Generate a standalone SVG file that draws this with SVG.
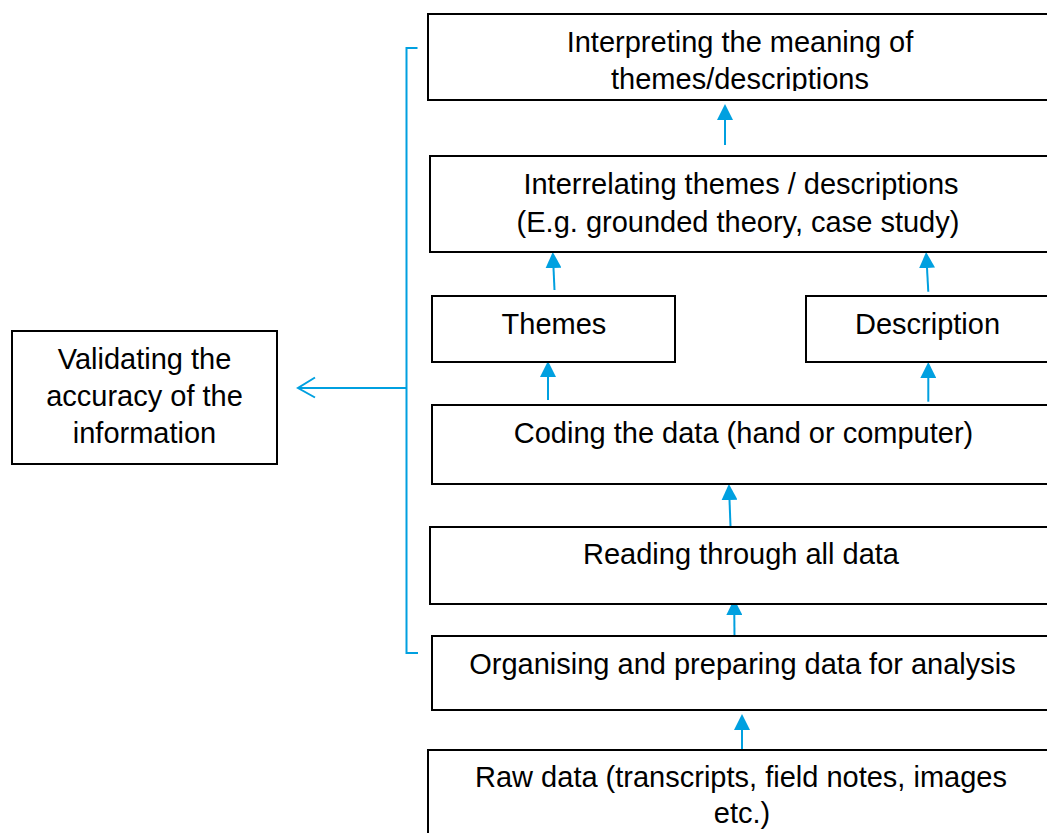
<svg xmlns="http://www.w3.org/2000/svg" width="1047" height="833" viewBox="0 0 1047 833">
<style>
.box{fill:#fff;stroke:#000;stroke-width:2}
.t{font-family:"Liberation Sans",Arial,sans-serif;font-size:29px;fill:#000;text-anchor:middle}
.c{stroke:#00a0e0;stroke-width:2;fill:none}
.a{stroke:#00a0e0;stroke-width:2;fill:none;marker-end:url(#ah)}
</style>
<defs>
<marker id="ah" markerUnits="userSpaceOnUse" markerWidth="16" markerHeight="16" refX="0" refY="7.5" orient="auto" viewBox="0 0 15 15">
<path d="M0,0 L15,7.5 L0,15 Z" fill="#00a0e0"/>
</marker>
<clipPath id="clip1"><rect x="428" y="14" width="640" height="77"/></clipPath>
</defs>
<g id="connectors">
<path class="c" d="M417.5,48 H406.5 V653 H418"/>
<path class="c" d="M406.5,388 H298"/>
<path class="c" d="M315,377.5 L298,388 L315,397.5"/>
<line class="a" x1="725" y1="145" x2="725" y2="120"/>
<line class="a" x1="554.5" y1="290" x2="553.5" y2="268"/>
<line class="a" x1="928.3" y1="291.7" x2="927" y2="268"/>
<line class="a" x1="548" y1="400" x2="548" y2="377"/>
<line class="a" x1="928.3" y1="401.7" x2="928.3" y2="378"/>
<line class="a" x1="730.5" y1="526" x2="729.5" y2="500"/>
<line class="a" x1="734.5" y1="636" x2="734.3" y2="615"/>
<line class="a" x1="742" y1="750" x2="742" y2="730"/>
</g>
<g id="node-interpreting">
<rect class="box" x="428" y="14" width="640" height="86"/>
<g clip-path="url(#clip1)">
<text class="t" x="740" y="52">Interpreting the meaning of</text>
<text class="t" x="740" y="89">themes/descriptions</text>
</g>
</g>
<g id="node-interrelating">
<rect class="box" x="430" y="156" width="640" height="96"/>
<text class="t" x="741" y="194">Interrelating themes / descriptions</text>
<text class="t" x="738" y="232">(E.g. grounded theory, case study)</text>
</g>
<g id="node-themes">
<rect class="box" x="432" y="296" width="243" height="66"/>
<text class="t" x="554" y="334">Themes</text>
</g>
<g id="node-description">
<rect class="box" x="806" y="296" width="260" height="66"/>
<text class="t" x="927.5" y="334">Description</text>
</g>
<g id="node-coding">
<rect class="box" x="432" y="405" width="640" height="79"/>
<text class="t" x="743.5" y="443">Coding the data (hand or computer)</text>
</g>
<g id="node-reading">
<rect class="box" x="430" y="527" width="640" height="77"/>
<text class="t" x="741" y="564">Reading through all data</text>
</g>
<g id="node-organising">
<rect class="box" x="432" y="636" width="640" height="74"/>
<text class="t" x="742.5" y="674">Organising and preparing data for analysis</text>
</g>
<g id="node-raw">
<rect class="box" x="428" y="750" width="640" height="100"/>
<text class="t" x="741" y="787">Raw data (transcripts, field notes, images</text>
<text class="t" x="742" y="823">etc.)</text>
</g>
<g id="node-validating">
<rect class="box" x="12" y="331" width="265" height="133"/>
<text class="t" x="144.5" y="369">Validating the</text>
<text class="t" x="144.5" y="406">accuracy of the</text>
<text class="t" x="144.5" y="443">information</text>
</g>
</svg>
